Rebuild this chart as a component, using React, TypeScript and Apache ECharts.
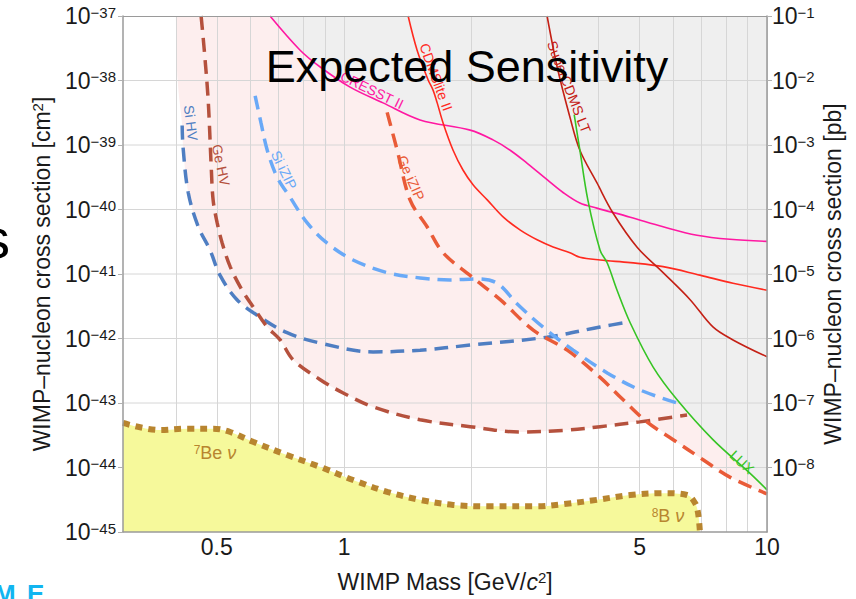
import React, { useEffect, useRef } from 'react';
import * as echarts from 'echarts';

// ---- data: [WIMP mass GeV/c^2, cross section cm^2] ----
const siHV = [[0.414,2.0e-39],[0.416,9.3e-40],[0.428,1.82e-40],[0.452,5.4e-41],[0.482,2.34e-41],[0.509,9.5e-42],[0.558,4.0e-42],[0.633,2.14e-42],[0.733,1.23e-42],[0.878,8.5e-43],[1.171,6.2e-43],[1.512,6.6e-43],[1.986,7.9e-43],[3.02,1.05e-42],[4.03,1.51e-42],[4.75,1.82e-42]];
const geHV = [[0.459,1e-37],[0.467,2.95e-38],[0.477,5.0e-39],[0.485,4.6e-40],[0.490,1.41e-40],[0.501,6.2e-41],[0.515,3.0e-41],[0.538,1.29e-41],[0.574,5.6e-42],[0.609,3.1e-42],[0.658,1.51e-42],[0.706,9.5e-43],[0.757,4.7e-43],[0.878,2.3e-43],[0.995,1.43e-43],[1.171,8.7e-44],[1.512,5.5e-44],[1.986,4.3e-44],[2.605,3.55e-44],[3.37,3.8e-44],[4.03,4.3e-44],[5.0,5.1e-44],[6.47,6.5e-44]];
const siIZIP = [[0.616,5.8e-39],[0.636,2.2e-39],[0.658,8.3e-40],[0.694,3.2e-40],[0.745,1.55e-40],[0.818,6.2e-41],[0.912,3.0e-41],[1.05,1.65e-41],[1.264,1.05e-41],[1.512,8.7e-42],[1.78,8.1e-42],[2.06,8.4e-42],[2.30,7.2e-42],[2.56,3.5e-42],[2.95,1.51e-42],[3.48,6.6e-43],[4.19,2.93e-43],[5.0,1.6e-43],[6.13,1.0e-43]];
const geIZIP = [[1.264,3.2e-39],[1.335,8.3e-40],[1.432,1.41e-40],[1.571,5.4e-41],[1.714,2.14e-41],[1.986,9.5e-42],[2.34,4.0e-42],[2.80,1.35e-42],[3.37,6.6e-43],[4.03,2.5e-43],[4.57,1.12e-43],[5.20,5.1e-44],[6.0,2.7e-44],[7.06,1.32e-44],[8.17,7.1e-45],[10,3.9e-45]];
const cresstII = [[0.668,1e-37],[0.787,2.95e-38],[0.878,1.62e-38],[1.033,7.9e-39],[1.236,4.5e-39],[1.512,2.45e-39],[1.986,1.7e-39],[2.25,1.2e-39],[2.47,8.3e-40],[2.71,5.2e-40],[3.02,2.9e-40],[3.30,1.82e-40],[3.61,1.26e-40],[3.96,1.05e-40],[4.75,7.6e-41],[5.68,5.4e-41],[6.83,4.0e-41],[8.17,3.45e-41],[10,3.2e-41]];
const cdmsliteII = [[1.417,1e-37],[1.488,2.95e-38],[1.58,1.02e-38],[1.623,7.1e-39],[1.66,4.5e-39],[1.714,2.2e-39],[1.81,8.3e-40],[1.91,4.1e-40],[2.02,2.4e-40],[2.18,1.41e-40],[2.38,7.6e-41],[2.61,4.8e-41],[2.86,3.4e-41],[3.12,2.63e-41],[3.42,2.14e-41],[3.61,1.82e-41],[4.03,1.65e-41],[4.75,1.5e-41],[5.68,1.3e-41],[6.94,9.6e-42],[8.31,7.2e-42],[10,5.6e-42]];
const superCdmsLT = [[3.02,1e-37],[3.19,1.62e-38],[3.42,2.7e-39],[3.61,8.3e-40],[3.96,2.6e-40],[4.32,8.9e-41],[4.93,2.6e-41],[5.68,1.05e-41],[6.58,4.0e-42],[7.45,1.51e-42],[8.31,9.5e-43],[10,5.2e-43]];
const lux = [[3.50,2.95e-39],[3.61,8.3e-40],[3.77,1.41e-40],[4.03,2.34e-41],[4.19,1.48e-41],[4.42,5.6e-42],[4.75,1.74e-42],[5.38,3.6e-43],[6.13,1.12e-43],[7.45,2.7e-44],[9.12,8.1e-45],[10,4.5e-45]];
const neutrinoFloor = [[0.3,4.9e-44],[0.367,3.8e-44],[0.426,4.0e-44],[0.490,4.0e-44],[0.538,3.55e-44],[0.609,2.5e-44],[0.733,1.56e-44],[0.878,1.02e-44],[1.05,6.4e-45],[1.264,4.2e-45],[1.512,3.15e-45],[1.81,2.63e-45],[2.18,2.5e-45],[2.86,2.5e-45],[3.30,2.7e-45],[3.96,3.15e-45],[4.75,3.75e-45],[5.68,4.0e-45],[6.47,3.75e-45],[6.76,2.8e-45],[6.87,1.97e-45],[6.94,1e-45]];
// lower edges of the shaded regions
const projectedRegionEdge = [[0.400,1e-37],[0.404,1e-38],[0.414,2.0e-39],[0.416,9.3e-40],[0.428,1.82e-40],[0.452,5.4e-41],[0.482,2.34e-41],[0.509,9.5e-42],[0.558,4.0e-42],[0.63,2.3e-42],[0.658,1.51e-42],[0.706,9.5e-43],[0.757,4.7e-43],[0.878,2.3e-43],[0.995,1.43e-43],[1.171,8.7e-44],[1.512,5.5e-44],[1.986,4.3e-44],[2.605,3.55e-44],[3.37,3.8e-44],[4.03,4.3e-44],[5.0,5.1e-44],[5.2,5.0e-44],[6.0,2.7e-44],[7.06,1.32e-44],[8.17,7.1e-45],[10,3.9e-45]];
const excludedRegionEdge = [[0.668,1e-37],[0.787,2.95e-38],[0.878,1.62e-38],[1.033,7.9e-39],[1.236,4.5e-39],[1.512,2.45e-39],[1.714,2.2e-39],[1.81,8.3e-40],[1.91,4.1e-40],[2.02,2.4e-40],[2.18,1.41e-40],[2.38,7.6e-41],[2.61,4.8e-41],[2.86,3.4e-41],[3.12,2.63e-41],[3.42,2.14e-41],[3.61,1.82e-41],[4.03,1.65e-41],[4.15,1.57e-41],[4.42,5.6e-42],[4.75,1.74e-42],[5.38,3.6e-43],[6.13,1.12e-43],[7.45,2.7e-44],[9.12,8.1e-45],[10,4.5e-45]];

// axes
const xMin = 0.3, xMax = 10;
const yMin = 1e-45, yMax = 1e-37;            // cm^2
const yRightMin = 1e-9, yRightMax = 1e-1;    // pb
const PB_TO_CM2 = 1e-36;
const xGridValues = [0.4,0.5,0.6,0.7,0.8,0.9,1,2,3,4,5,6,7,8,9,10];
const xTickLabels = [0.5,1,5,10];
const yGridValues = [1e-44,1e-43,1e-42,1e-41,1e-40,1e-39,1e-38];

const FONT = 'Liberation Sans, Arial, Helvetica, sans-serif';
const INK = '#1a1a1a';
const GRIDC = '#d6d6d6';
const AXISC = '#9a9a9a';

function powLabel(v: number) {
  const e = Math.round(Math.log10(v));
  return '{b|10}{s|' + (e < 0 ? '\u2212' : '') + Math.abs(e) + '}';
}
const powRich = {
  b: { fontSize: 23, fontFamily: FONT, color: INK },
  s: { fontSize: 15, fontFamily: FONT, color: INK, verticalAlign: 'top' },
};
const nameRich = {
  t: { fontSize: 23, fontFamily: FONT, color: INK },
  i: { fontSize: 23, fontFamily: FONT, color: INK, fontStyle: 'italic' },
  sup: { fontSize: 15, fontFamily: FONT, color: INK, verticalAlign: 'top' },
};

function curve(name: string, data: number[][], color: string, dashed: boolean, width: number, z: number) {
  return {
    name, type: 'line', data, xAxisIndex: 0, yAxisIndex: 0, z,
    symbol: 'none', smooth: 0.35, silent: true,
    lineStyle: { color, width, type: dashed ? [14, 8] : 'solid', cap: 'butt' },
  };
}

function label(text: string, x: number, y: number, rot: number, color: string, size = 14) {
  return {
    type: 'text', x, y, rotation: rot, z: 50, silent: true,
    style: { text, x: 0, y: 0, fill: color, fontSize: size, fontFamily: FONT, align: 'center', verticalAlign: 'middle' },
  };
}

export default function App() {
  const ref = useRef<HTMLDivElement>(null);
  useEffect(() => {
    if (!ref.current) return;
    const chart = echarts.init(ref.current, undefined, { renderer: 'svg' });
    const vLines = xGridValues.map((v) => ({
      xAxis: v,
      label: xTickLabels.includes(v)
        ? { show: true, position: 'start', distance: 3, formatter: String(v), color: INK, fontSize: 23, fontFamily: FONT }
        : { show: false },
    }));
    const hLines = yGridValues.map((v, i) => ({
      name: 'grid' + i, type: 'line', data: [[xMin, v], [xMax, v]], z: 3, symbol: 'none', silent: true,
      lineStyle: { color: GRIDC, width: 1 },
    }));
    const option: any = {
      animation: false,
      backgroundColor: '#ffffff',
      grid: { left: 123, top: 16, right: 89, bottom: 67, show: false, containLabel: false, outerBoundsMode: 'none' },
      xAxis: [
        {
          type: 'log', logBase: 10, min: xMin, max: xMax, position: 'bottom', z: 8,
          axisLine: { show: true, lineStyle: { color: AXISC, width: 1.5 } },
          axisTick: { show: false }, axisLabel: { show: false }, splitLine: { show: false },
          name: '{t|WIMP Mass [GeV/}{i|c}{sup|2}{t|]}', nameLocation: 'middle', nameGap: 38, nameMoveOverlap: false,
          nameTextStyle: { fontSize: 23, fontFamily: FONT, color: INK, rich: nameRich },
        },
        {
          type: 'log', logBase: 10, min: xMin, max: xMax, position: 'top', z: 8,
          axisLine: { show: true, lineStyle: { color: AXISC, width: 1 } },
          axisTick: { show: false }, axisLabel: { show: false }, splitLine: { show: false },
        },
      ],
      yAxis: [
        {
          // cm^2 scale used by all series
          type: 'log', logBase: 10, min: yMin, max: yMax, position: 'left', z: 8,
          axisLine: { show: true, lineStyle: { color: AXISC, width: 1.5 } },
          axisTick: { show: false }, axisLabel: { show: false }, splitLine: { show: false },
          name: '{t|WIMP\u2013nucleon cross section [cm}{sup|2}{t|]}', nameLocation: 'middle', nameGap: 70, nameRotate: 90,
          nameMoveOverlap: false,
          nameTextStyle: { fontSize: 23, fontFamily: FONT, color: INK, rich: nameRich },
        },
        {
          type: 'log', logBase: 10, min: yRightMin, max: yRightMax, position: 'right', z: 8,
          axisLine: { show: true, lineStyle: { color: AXISC, width: 1.5 } },
          axisTick: { show: true, length: 5, lineStyle: { color: '#b0b0b0' } },
          axisLabel: { formatter: powLabel, rich: powRich, margin: 5, showMinLabel: false, showMaxLabel: true },
          splitLine: { show: false },
          name: '{t|WIMP\u2013nucleon cross section [pb]}', nameLocation: 'middle', nameGap: 54, nameRotate: 90,
          nameMoveOverlap: false,
          nameTextStyle: { fontSize: 23, fontFamily: FONT, color: INK, rich: nameRich },
        },
        {
          // left tick labels, in cm^2 (= pb x 1e-36)
          type: 'log', logBase: 10, min: yRightMin, max: yRightMax, position: 'left', z: 8,
          axisLine: { show: false },
          axisTick: { show: true, length: 5, lineStyle: { color: '#b0b0b0' } },
          axisLabel: { formatter: (v: number) => powLabel(v * PB_TO_CM2), rich: powRich, margin: 7, showMinLabel: true, showMaxLabel: true },
          splitLine: { show: false },
        },
      ],
      series: [
        {
          name: 'projected', type: 'line', data: projectedRegionEdge, z: 1, symbol: 'none', smooth: 0.35, silent: true,
          lineStyle: { width: 0 }, areaStyle: { color: '#fdeeee', opacity: 1, origin: yMax },
          markLine: {
            silent: true, z: 3, symbol: ['none', 'none'], animation: false,
            lineStyle: { color: GRIDC, width: 1, type: 'solid' },
            label: { show: false }, emphasis: { disabled: true },
            data: vLines,
          },
        },
        {
          name: 'excluded', type: 'line', data: excludedRegionEdge, z: 2, symbol: 'none', smooth: 0.35, silent: true,
          lineStyle: { width: 0 }, areaStyle: { color: '#efefef', opacity: 1, origin: yMax },
        },
        ...hLines,
        {
          name: 'neutrino', type: 'line', data: neutrinoFloor, z: 4, symbol: 'none', smooth: 0.35, silent: true,
          lineStyle: { color: '#b8852f', width: 6, type: [7, 6], cap: 'butt' },
          areaStyle: { color: '#f6f99b', opacity: 1, origin: yMin },
        },
        curve('CRESST II', cresstII, '#ff18a2', false, 1.6, 5),
        curve('CDMSlite II', cdmsliteII, '#ff2a1f', false, 1.6, 5),
        curve('SuperCDMS LT', superCdmsLT, '#c42015', false, 1.6, 5),
        curve('LUX', lux, '#36c424', false, 1.6, 5),
        curve('Si HV', siHV, '#4f7ec2', true, 3.5, 6),
        curve('Ge HV', geHV, '#b5513d', true, 3.5, 6),
        curve('Si iZIP', siIZIP, '#69a9f7', true, 3.5, 6),
        curve('Ge iZIP', geIZIP, '#e95b38', true, 3.5, 6),
      ],
      graphic: [
        label('Si HV', 191, 123, -1.45, '#4f7ec2'),
        label('Ge HV', 221, 165, -1.36, '#b5513d'),
        label('Si iZIP', 284, 170, -1.12, '#69a9f7'),
        label('Ge iZIP', 411, 178, -1.15, '#e95b38'),
        label('CRESST II', 372, 90, -0.45, '#ff18a2'),
        label('CDMSlite II', 436, 77, -1.22, '#ff2a1f'),
        label('SuperCDMS LT', 569, 87, -1.2, '#c42015'),
        label('LUX', 742, 462, -0.75, '#36c424'),
        {
          type: 'text', x: 215, y: 453, z: 50, silent: true,
          style: {
            text: '{s|7}{t|Be }{i|\u03bd}', x: 0, y: 0, align: 'center', verticalAlign: 'middle',
            rich: {
              s: { fontSize: 12, fontFamily: FONT, fill: '#b8852f', verticalAlign: 'top' },
              t: { fontSize: 18, fontFamily: FONT, fill: '#b8852f' },
              i: { fontSize: 18, fontFamily: FONT, fill: '#b8852f', fontStyle: 'italic' },
            },
          },
        },
        {
          type: 'text', x: 668, y: 516, z: 50, silent: true,
          style: {
            text: '{s|8}{t|B }{i|\u03bd}', x: 0, y: 0, align: 'center', verticalAlign: 'middle',
            rich: {
              s: { fontSize: 12, fontFamily: FONT, fill: '#b8852f', verticalAlign: 'top' },
              t: { fontSize: 18, fontFamily: FONT, fill: '#b8852f' },
              i: { fontSize: 18, fontFamily: FONT, fill: '#b8852f', fontStyle: 'italic' },
            },
          },
        },
        {
          type: 'text', x: 467, y: 66, z: 100, silent: true,
          style: { text: 'Expected Sensitivity', x: 0, y: 0, fill: '#000', fontSize: 45, fontFamily: FONT, align: 'center', verticalAlign: 'middle' },
        },
        {
          type: 'text', x: -18, y: 238, z: 100, silent: true,
          style: { text: 's', x: 0, y: 0, fill: '#000', fontSize: 56, fontFamily: FONT, align: 'left', verticalAlign: 'middle' },
        },
        {
          type: 'text', x: -6, y: 594, z: 100, silent: true,
          style: { text: 'M', x: 0, y: 0, fill: '#12b5f0', fontSize: 26, fontWeight: 'bold', fontFamily: FONT, align: 'left', verticalAlign: 'middle' },
        },
        {
          type: 'text', x: 27, y: 594, z: 100, silent: true,
          style: { text: 'E', x: 0, y: 0, fill: '#12b5f0', fontSize: 26, fontWeight: 'bold', fontFamily: FONT, align: 'left', verticalAlign: 'middle' },
        },
      ],
    };
    chart.setOption(option);
    return () => chart.dispose();
  }, []);
  return <div ref={ref} style={{ position: 'fixed', left: 0, top: 0, width: 856, height: 599, background: '#fff' }} />;
}
